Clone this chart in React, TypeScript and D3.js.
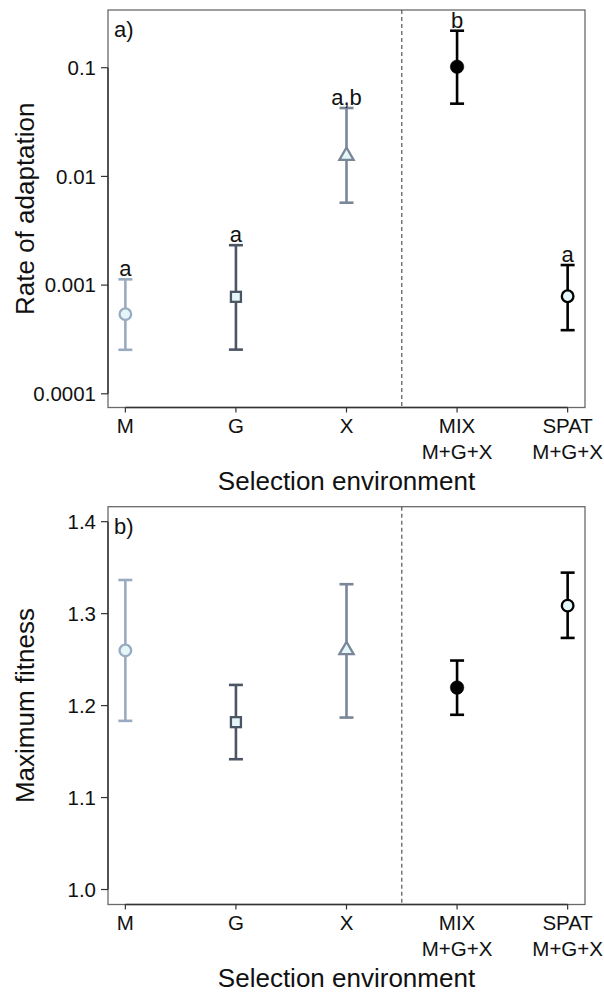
import React from "react";
import * as d3 from "d3";

const categories = ["M", "G", "X", "MIX", "SPAT"];
const subLabels = ["", "", "", "M+G+X", "M+G+X"];

const rateMean = [0.00054, 0.00078, 0.0155, 0.102, 0.00079];
const rateLow = [0.000254, 0.000255, 0.00573, 0.0467, 0.000385];
const rateHigh = [0.00113, 0.00233, 0.0426, 0.219, 0.00153];
const rateLetters = ["a", "a", "a,b", "b", "a"];
const rateTicks = [0.0001, 0.001, 0.01, 0.1];
const rateTickLabels = ["0.0001", "0.001", "0.01", "0.1"];

const fitMean = [1.26, 1.182, 1.2605, 1.2196, 1.3087];
const fitLow = [1.1834, 1.1417, 1.187, 1.19, 1.2736];
const fitHigh = [1.3366, 1.2225, 1.332, 1.249, 1.3446];
const fitTicks = [1.0, 1.1, 1.2, 1.3, 1.4];
const fitTickLabels = ["1.0", "1.1", "1.2", "1.3", "1.4"];

const shapes = ["circle", "square", "triangle", "circleFilled", "circle"];
const colors = ["#9aabc1", "#4b5664", "#7a8698", "#000000", "#000000"];
const lightFill = "#e3f6f8";
const FONT = "'Liberation Sans', Arial, Helvetica, sans-serif";

const L = 108, R = 585;

function Marker({ shape, cx, cy, color }: { shape: string; cx: number; cy: number; color: string }) {
  const sw = 2.3;
  if (shape === "square") {
    const s = 10;
    return <rect x={cx - s / 2} y={cy - s / 2} width={s} height={s} fill={lightFill} stroke={color} strokeWidth={sw} />;
  }
  if (shape === "triangle") {
    const r = 5.3;
    const top = 1.5551 * r, xc = 1.3468 * r, yc = 0.7776 * r;
    const pts = `${cx},${cy - top} ${cx + xc},${cy + yc} ${cx - xc},${cy + yc}`;
    return <polygon points={pts} fill={lightFill} stroke={color} strokeWidth={sw} strokeLinejoin="miter" />;
  }
  if (shape === "circleFilled") {
    return <circle cx={cx} cy={cy} r={6.8} fill={color} stroke={color} strokeWidth={0.5} />;
  }
  return <circle cx={cx} cy={cy} r={5.8} fill={lightFill} stroke={color} strokeWidth={sw} />;
}

function Panel({
  y, x, mean, low, high, letters, ticks, tickLabels, yTitle, panelLabel, top, bottom,
}: any) {
  const xs = categories.map((_, i) => x(i));
  const dashX = x(2.5);
  return (
    <g>
      {/* box */}
      <rect x={L} y={top} width={R - L} height={bottom - top} fill="none" stroke="#6a6a6a" strokeWidth={1.3} />
      {/* dashed separator */}
      <line x1={dashX} x2={dashX} y1={top} y2={bottom} stroke="#555" strokeWidth={1.2} strokeDasharray="4,3" />
      {/* y axis */}
      <line x1={L} x2={L} y1={y(ticks[0])} y2={y(ticks[ticks.length - 1])} stroke="#333" strokeWidth={1.4} />
      {ticks.map((t: number, i: number) => (
        <g key={"yt" + i}>
          <line x1={L - 7} x2={L} y1={y(t)} y2={y(t)} stroke="#333" strokeWidth={1.2} />
          <text x={96} y={y(t)} dy="0.35em" textAnchor="end" fontSize={20.5} fontFamily={FONT} fill="#111">
            {tickLabels[i]}
          </text>
        </g>
      ))}
      {/* x axis */}
      <line x1={xs[0]} x2={xs[xs.length - 1]} y1={bottom} y2={bottom} stroke="#333" strokeWidth={1.4} />
      {categories.map((c, i) => (
        <g key={"xt" + i}>
          <line x1={xs[i]} x2={xs[i]} y1={bottom} y2={bottom + 5} stroke="#333" strokeWidth={1.2} />
          <text x={xs[i]} y={bottom + 25.5} textAnchor="middle" fontSize={20.5} fontFamily={FONT} fill="#111">{c}</text>
          {subLabels[i] && (
            <text x={xs[i]} y={bottom + 51} textAnchor="middle" fontSize={20.5} fontFamily={FONT} fill="#111">{subLabels[i]}</text>
          )}
        </g>
      ))}
      <text x={(L + R) / 2} y={bottom + 82} textAnchor="middle" fontSize={26} fontFamily={FONT} fill="#111">
        Selection environment
      </text>
      <text
        transform={`translate(34,${(top + bottom) / 2}) rotate(-90)`}
        textAnchor="middle"
        fontSize={26}
        fontFamily={FONT}
        fill="#111"
      >
        {yTitle}
      </text>
      <text x={114} y={top + 27} fontSize={22} fontFamily={FONT} fill="#111">{panelLabel}</text>
      {/* error bars */}
      {categories.map((c, i) => {
        const col = colors[i];
        const yl = y(low[i]), yh = y(high[i]), ym = y(mean[i]);
        return (
          <g key={"eb" + i}>
            <line x1={xs[i]} x2={xs[i]} y1={yl} y2={yh} stroke={col} strokeWidth={2.6} />
            <line x1={xs[i] - 7} x2={xs[i] + 7} y1={yl} y2={yl} stroke={col} strokeWidth={2.6} />
            <line x1={xs[i] - 7} x2={xs[i] + 7} y1={yh} y2={yh} stroke={col} strokeWidth={2.6} />
            <Marker shape={shapes[i]} cx={xs[i]} cy={ym} color={col} />
            {letters && (
              <text x={xs[i]} y={yh - 3} textAnchor="middle" fontSize={22} fontFamily={FONT} fill="#111">
                {letters[i]}
              </text>
            )}
          </g>
        );
      })}
    </g>
  );
}

export default function App() {
  const x = d3.scaleLinear().domain([-0.157, 4.157]).range([L, R]);
  const yA = d3.scaleLog().domain([Math.pow(10, -4.126), Math.pow(10, -0.469)]).range([407.5, 10]);
  const yB = d3.scaleLinear().domain([0.9837, 1.4163]).range([904.5, 506.7]);
  return (
    <svg width={604} height={992} style={{ position: "absolute", left: 0, top: 0, background: "#fff" }}>
      <rect width={604} height={992} fill="#fff" />
      <Panel
        y={yA}
        x={x}
        mean={rateMean}
        low={rateLow}
        high={rateHigh}
        letters={rateLetters}
        ticks={rateTicks}
        tickLabels={rateTickLabels}
        yTitle="Rate of adaptation"
        panelLabel="a)"
        top={10}
        bottom={407.5}
      />
      <Panel
        y={yB}
        x={x}
        mean={fitMean}
        low={fitLow}
        high={fitHigh}
        letters={null}
        ticks={fitTicks}
        tickLabels={fitTickLabels}
        yTitle="Maximum fitness"
        panelLabel="b)"
        top={506.7}
        bottom={904.5}
      />
    </svg>
  );
}
